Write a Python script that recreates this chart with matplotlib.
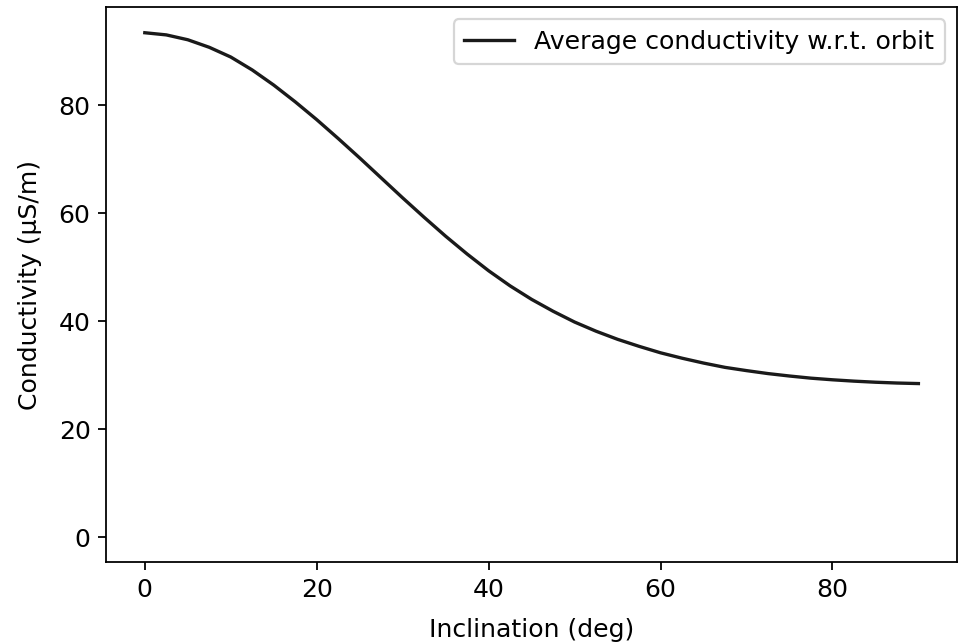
import matplotlib
matplotlib.use("Agg")
import matplotlib.pyplot as plt

# values
inclination = [0, 2.5, 5, 7.5, 10, 12.5, 15, 17.5, 20, 22.5, 25, 27.5, 30, 32.5, 35,
               37.5, 40, 42.5, 45, 47.5, 50, 52.5, 55, 57.5, 60, 62.5, 65, 67.5, 70,
               72.5, 75, 77.5, 80, 82.5, 85, 87.5, 90]
conductivity = [93.4, 93.0, 92.1, 90.7, 88.9, 86.5, 83.7, 80.6, 77.3, 73.8, 70.2, 66.5, 62.8, 59.2, 55.7,
                52.4, 49.3, 46.5, 44.0, 41.8, 39.8, 38.1, 36.6, 35.3, 34.1, 33.1, 32.2, 31.4, 30.8,
                30.25, 29.8, 29.4, 29.1, 28.85, 28.65, 28.5, 28.4]

plt.rcParams["font.size"] = 11.3

fig = plt.figure(figsize=(6.03, 4.03), dpi=160)
ax = fig.add_axes([0.11, 0.127, 0.882, 0.861])

ax.plot(inclination, conductivity, color="#1a1a1a", lw=1.5,
        label="Average conductivity w.r.t. orbit")
ax.set_xlim(-4.5, 94.5)
ax.set_ylim(-4.68, 98.18)
ax.set_xticks([0, 20, 40, 60, 80])
ax.set_yticks([0, 20, 40, 60, 80])
ax.set_xlabel("Inclination (deg)", labelpad=7)
ax.set_ylabel("Conductivity (µS/m)", labelpad=7.5)
ax.legend(loc="upper right")

fig.savefig("out.png", dpi=160)
